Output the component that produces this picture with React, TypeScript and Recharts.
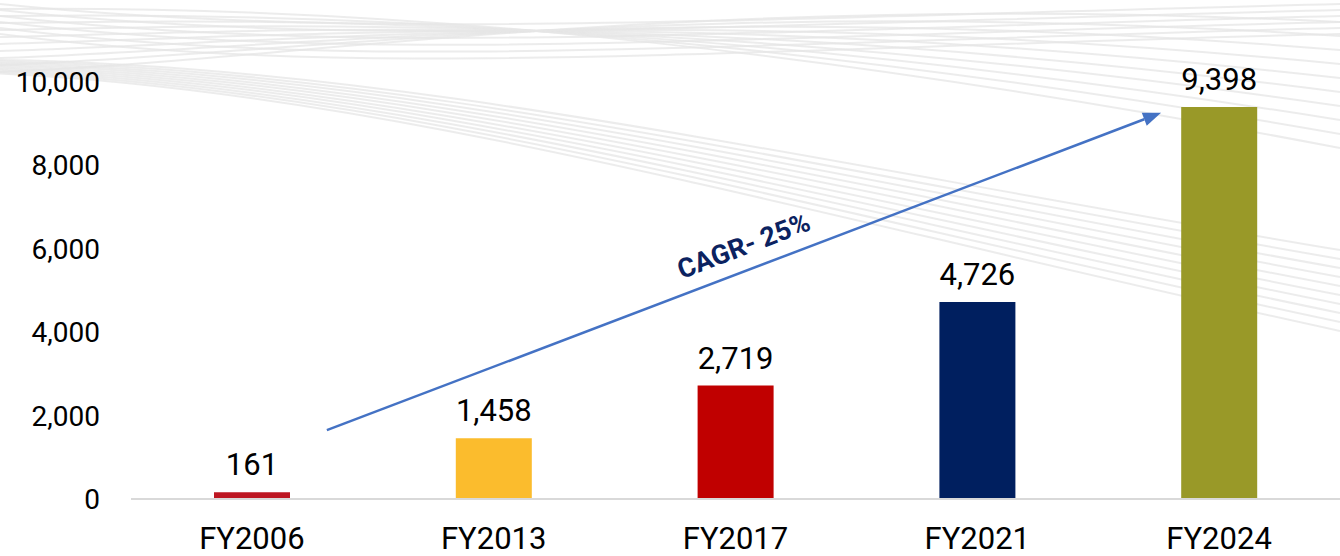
import React from 'react';
import { BarChart, Bar, XAxis, YAxis, Cell, LabelList, ReferenceLine } from 'recharts';

const categories = ['FY2006', 'FY2013', 'FY2017', 'FY2021', 'FY2024'];
const values = [161, 1458, 2719, 4726, 9398];
const barColors = ['#BD1622', '#FBBC2D', '#C00000', '#001F5F', '#999928'];
const yTicks = [0, 2000, 4000, 6000, 8000, 10000];

// growth arrow, x in category slots (0..5), y in value units
const cagrLabel = 'CAGR- 25%';
const arrowFrom = { x: 0.81, y: 1650 };
const arrowTo = { x: 4.26, y: 9260 };

// each category sits in the middle of its slot on a numeric axis
const data = categories.map((name, i) => ({ name, pos: i + 0.5, value: values[i] }));
const xTicks = data.map((d) => d.pos);

const FONT = 'Roboto, "Liberation Sans", Arial, sans-serif';

// faint decorative swooshes behind the chart
const Swooshes = () => {
  const paths: string[] = [];
  for (let i = 0; i < 10; i++) {
    paths.push(`M0 ${60 + i * 1.5} C400 ${66 + i * 3}, 800 ${160 + i * 6}, 1340 ${250 + i * 9}`);
  }
  for (let i = 0; i < 10; i++) {
    paths.push(`M0 ${72 - i * 7} C300 ${60 - i * 6}, 700 ${-10 + i * 4}, 1340 ${22 + i * 14}`);
  }
  for (let i = 0; i < 6; i++) {
    paths.push(`M0 ${4 + i * 6} C350 ${40 + i * 8}, 700 ${20 + i * 6}, 1340 ${4 + i * 6}`);
  }
  return (
    <svg width={1340} height={556} style={{ position: 'absolute', left: 0, top: 0 }}>
      {paths.map((d, i) => (
        <path key={i} d={d} fill="none" stroke="#e6e6e6" strokeWidth={2} opacity={0.75} />
      ))}
    </svg>
  );
};

const renderArrow = (props: any) => {
  const { x1, y1, x2, y2 } = props;
  const dx = x2 - x1;
  const dy = y2 - y1;
  const len = Math.sqrt(dx * dx + dy * dy);
  const ux = dx / len;
  const uy = dy / len;
  const head = 18;
  const half = 7;
  const bx = x2 - ux * head;
  const by = y2 - uy * head;
  const angle = (Math.atan2(dy, dx) * 180) / Math.PI;
  const mx = x1 + dx * 0.51 + uy * 24;
  const my = y1 + dy * 0.51 - ux * 24;
  return (
    <g>
      <line x1={x1} y1={y1} x2={bx} y2={by} stroke="#4472C4" strokeWidth={2.5} />
      <polygon
        points={`${x2},${y2} ${bx - uy * half},${by + ux * half} ${bx + uy * half},${by - ux * half}`}
        fill="#4472C4"
      />
      <text
        x={mx}
        y={my}
        transform={`rotate(${angle} ${mx} ${my})`}
        textAnchor="middle"
        dominantBaseline="central"
        fontFamily={FONT}
        fontWeight={700}
        fontSize={27}
        fill="#0B2260"
      >
        {cagrLabel}
      </text>
    </g>
  );
};

export default function App() {
  return (
    <div style={{ position: 'absolute', left: 0, top: 0, width: 1340, height: 556, background: '#fff', overflow: 'hidden' }}>
      <Swooshes />
      <div style={{ position: 'absolute', left: 0, top: 0 }}>
        <BarChart
          width={1340}
          height={556}
          data={data}
          margin={{ top: 82, right: 0, left: 0, bottom: 0 }}
        >
          <XAxis
            dataKey="pos"
            type="number"
            domain={[0, 5]}
            ticks={xTicks}
            allowDataOverflow
            tickFormatter={(v: number) => categories[Math.floor(v)]}
            height={57}
            tickLine={false}
            tickSize={0}
            tickMargin={28}
            axisLine={{ stroke: '#D9D9D9', strokeWidth: 2 }}
            tick={{ fill: '#000', fontSize: 31, fontFamily: FONT }}
            interval={0}
          />
          <YAxis
            width={131}
            domain={[0, 10000]}
            ticks={yTicks}
            axisLine={false}
            tickLine={false}
            tickSize={0}
            tickMargin={31}
            tickFormatter={(v: number) => v.toLocaleString('en-US')}
            tick={{ fill: '#000', fontSize: 28, fontFamily: FONT }}
          />
          <Bar dataKey="value" barSize={76} isAnimationActive={false}>
            {data.map((d, i) => (
              <Cell key={d.name} fill={barColors[i]} />
            ))}
            <LabelList
              dataKey="value"
              position="top"
              offset={17}
              formatter={(v: any) => Number(v).toLocaleString('en-US')}
              style={{ fill: '#000', fontSize: 31, fontFamily: FONT }}
            />
          </Bar>
          <ReferenceLine
            segment={[arrowFrom, arrowTo]}
            ifOverflow="visible"
            shape={renderArrow}
          />
        </BarChart>
      </div>
    </div>
  );
}
